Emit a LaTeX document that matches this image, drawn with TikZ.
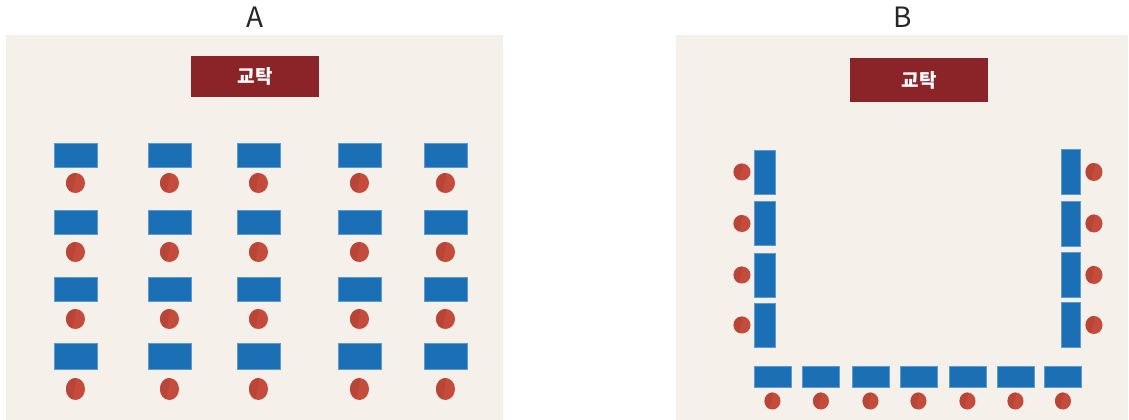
\documentclass[tikz,border=0pt]{standalone}
\usepackage{fontspec}
\usepackage{tikz}
\usetikzlibrary{shapes.geometric, positioning}
\newfontfamily\kr{Noto Sans CJK KR}
\definecolor{paper}{HTML}{F5F1EA}
\definecolor{podiumred}{HTML}{8B2429}
\definecolor{deskblue}{HTML}{1B6FB5}
\definecolor{deskedge}{HTML}{5C9BD2}
\definecolor{chairred}{HTML}{C54C3C}
\definecolor{chairdark}{HTML}{B84536}

\begin{document}
\begin{tikzpicture}[x=1pt, y=-1pt,
  room/.style={fill=paper, draw=none, anchor=north west, inner sep=0pt},
  title/.style={font=\kr\fontsize{28}{28}\selectfont, text=black!85},
  podium/.style={fill=podiumred, text=white, inner sep=0pt,
    font=\kr\bfseries\fontsize{19}{19}\selectfont},
  desk/.style={fill=deskblue, draw=deskedge, line width=0.5pt, inner sep=0pt},
  chair/.style={ellipse, fill=chairred, inner sep=0pt,
    minimum width=19pt, minimum height=20pt,
    path picture={\fill[chairdark] (path picture bounding box.south west)
      -- (path picture bounding box.north west)
      -- ([xshift=1pt]path picture bounding box.north)
      -- ([xshift=-3pt]path picture bounding box.south) -- cycle;}}
]
\useasboundingbox (0,0) rectangle (1129,420);

% layout A
\node[room, minimum width=497pt, minimum height=385pt] (roomA) at (6,35) {};
\node[title] (labA) at (255,17) {A};
\node[podium, minimum width=128pt, minimum height=41pt] (podA) at (255,76.5) {교탁};
\foreach \dx [count=\c] in {75.5,169.5,258.5,359.5,445.5}
  \foreach \dy/\dh/\cy/\ch [count=\r] in {155/24/183/20, 222/24/252/20, 289/24/319/20, 356/26/389/22} {
    \node[desk, minimum width=43pt, minimum height=\dh pt] (a-desk-\r-\c) at (\dx,\dy) {};
    \node[chair, minimum height=\ch pt] (a-chair-\r-\c) at (\dx,\cy) {};
  }

% layout B
\node[room, minimum width=452pt, minimum height=385pt] (roomB) at (676,35) {};
\node[title] (labB) at (903,17) {B};
\node[podium, minimum width=138pt, minimum height=44pt] (podB) at (919,80) {교탁};
\foreach \dy [count=\r] in {172,223.5,275,325} {
  \node[desk, minimum width=21pt, minimum height=44pt] (b-left-\r) at (764.5,\dy) {};
  \node[chair, minimum width=17pt, minimum height=17pt] (b-lchair-\r) at (742,\dy) {};
  \node[desk, minimum width=19pt, minimum height=45pt] (b-right-\r) at (1071,\dy) {};
  \node[chair, minimum width=17pt, minimum height=18pt] (b-rchair-\r) at (1094,\dy) {};
}
\foreach \dx [count=\c] in {772.5,821,870.5,918.5,967.5,1015.5,1063} {
  \node[desk, minimum width=37pt, minimum height=21pt] (b-front-\c) at (\dx,376.5) {};
  \node[chair, minimum width=16pt, minimum height=17pt] (b-fchair-\c) at (\dx,401) {};
}
\end{tikzpicture}
\end{document}
